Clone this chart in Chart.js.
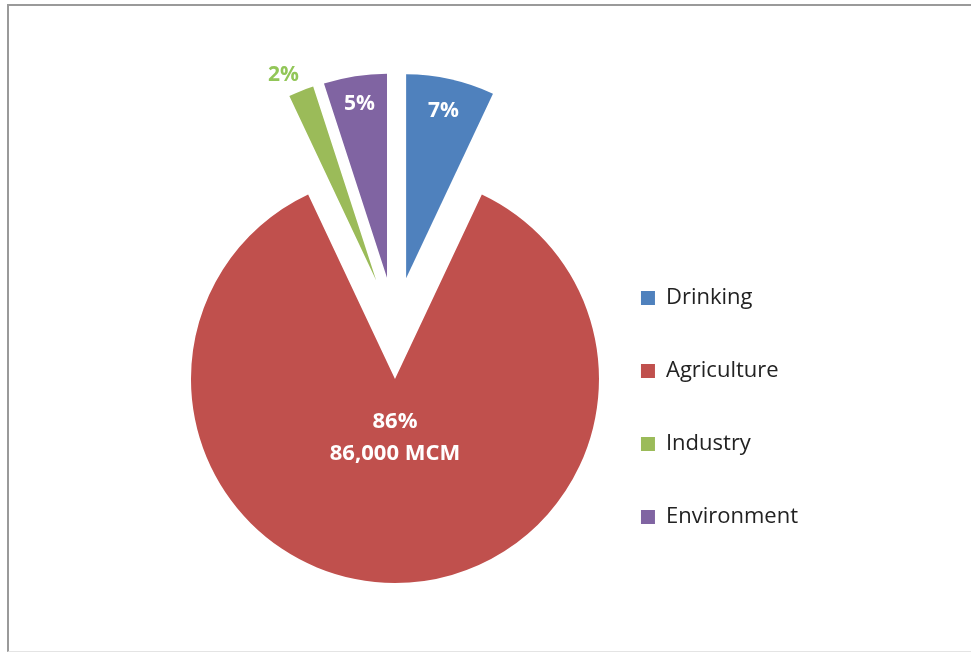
<!DOCTYPE html>
<html>
<head>
<meta charset="utf-8">
<script src="https://cdn.jsdelivr.net/npm/chart.js@4.4.1/dist/chart.umd.min.js"></script>
<style>
  html, body { margin: 0; padding: 0; background: #fff; }
  #wrap { position: relative; width: 971px; height: 652px; overflow: hidden; }
  #frame {
    position: absolute; left: 7px; top: 4px; width: 980px; height: 645px;
    border-left: 2px solid #9a9a9a; border-top: 2px solid #9a9a9a; border-bottom: 1px solid #e4e4e4;
    pointer-events: none;
  }
  canvas { position: absolute; left: 0; top: 0; }
</style>
</head>
<body>
<div id="wrap">
  <canvas id="waterUse" width="971" height="652"></canvas>
  <div id="frame"></div>
</div>
<script>
// Water use by sector
const categories = ['Drinking', 'Agriculture', 'Industry', 'Environment'];
const shares = [7, 86, 2, 5];
const volumeMcm = [null, 86000, null, null];
const sliceColors = ['#4F81BD', '#C0504D', '#9BBB59', '#8064A2'];

// how far each slice is pulled out, and where its label sits
const explode = 51;
const labelSpots = [
  { r: 0.84, size: 21, color: '#fff', align: 'center', base: 'middle' },
  { r: 0.29, size: 22, color: '#fff', align: 'center', base: 'middle' },
  { r: 1.03, size: 21, color: '#92C658', align: 'right', base: 'bottom' },
  { r: 0.86, size: 21, color: '#fff', align: 'center', base: 'middle' }
];

const explodePlugin = {
  id: 'explode',
  afterDatasetsUpdate(chart) {
    chart.getDatasetMeta(0).data.forEach(arc => {
      const mid = (arc.startAngle + arc.endAngle) / 2;
      arc.x += Math.cos(mid) * explode;
      arc.y += Math.sin(mid) * explode;
    });
  }
};

const sliceLabels = {
  id: 'sliceLabels',
  afterDatasetsDraw(chart) {
    const ctx = chart.ctx;
    chart.getDatasetMeta(0).data.forEach((arc, i) => {
      const spot = labelSpots[i];
      const mid = (arc.startAngle + arc.endAngle) / 2;
      const px = arc.x + Math.cos(mid) * arc.outerRadius * spot.r;
      const py = arc.y + Math.sin(mid) * arc.outerRadius * spot.r;
      const lines = [shares[i] + '%'];
      if (volumeMcm[i] !== null) lines.push(volumeMcm[i].toLocaleString('en-US') + ' MCM');
      ctx.save();
      ctx.font = 'bold ' + spot.size + 'px "Open Sans"';
      ctx.fillStyle = spot.color;
      ctx.textAlign = spot.align;
      ctx.textBaseline = spot.base;
      const lh = 32;
      lines.forEach((t, k) => {
        ctx.fillText(t, px, py + (k - (lines.length - 1) / 2) * lh);
      });
      ctx.restore();
    });
  }
};

new Chart(document.getElementById('waterUse'), {
  type: 'pie',
  data: {
    labels: categories,
    datasets: [{
      data: shares,
      backgroundColor: sliceColors,
      borderWidth: 0,
      radius: 204
    }]
  },
  options: {
    responsive: false,
    animation: false,
    devicePixelRatio: 1,
    layout: {
      padding: { left: 200, right: 163, top: 77, bottom: 73 }
    },
    plugins: {
      tooltip: { enabled: false },
      legend: {
        position: 'right',
        align: 'end',
        labels: {
          boxWidth: 14,
          boxHeight: 14,
          padding: 51,
          color: '#222',
          font: { family: '"Open Sans"', size: 22 }
        }
      }
    }
  },
  plugins: [explodePlugin, sliceLabels]
});
</script>
</body>
</html>
